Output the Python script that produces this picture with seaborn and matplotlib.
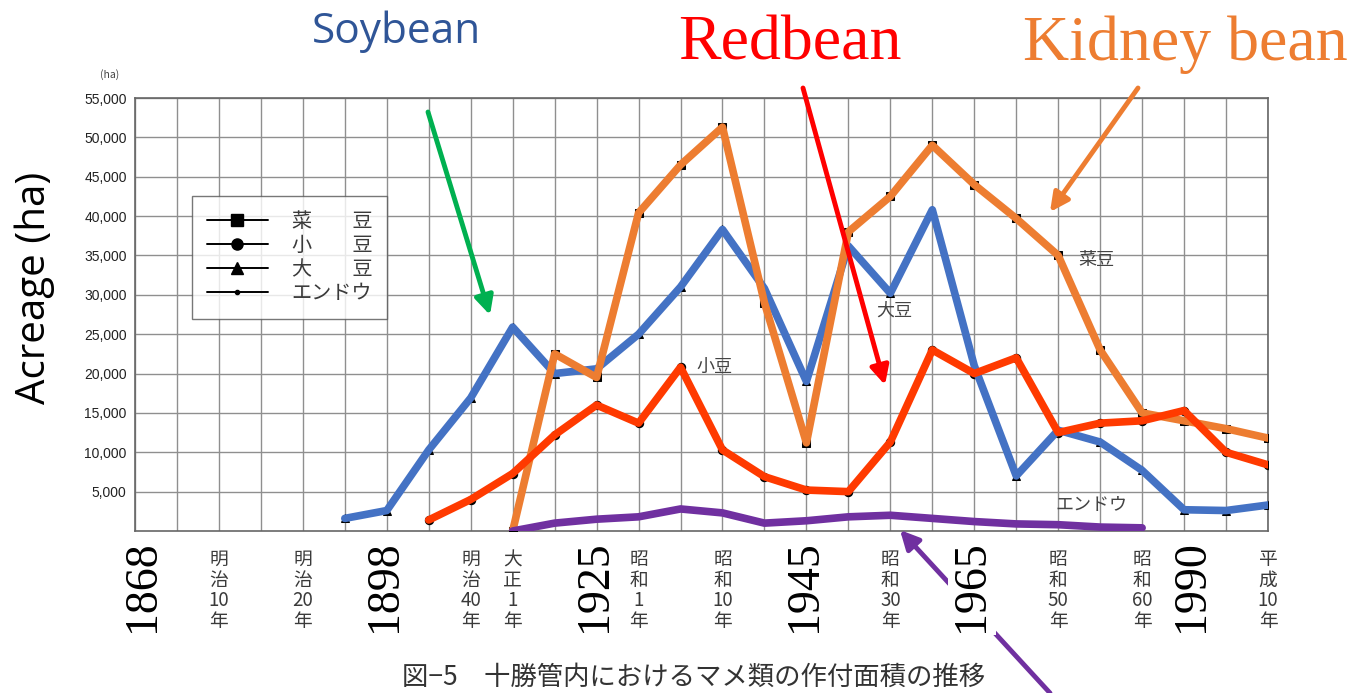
import numpy as np
import pandas as pd
import matplotlib
matplotlib.use("Agg")
import matplotlib.pyplot as plt
from matplotlib.lines import Line2D
import seaborn as sns

# ---------------- data (thousand ha), x = 5-year grid index ----------------
soy_x = list(range(5, 28))
soybean = [1.6, 2.6, 10.3, 16.9, 25.9, 20.0, 20.6, 25.0, 31.0, 38.3, 30.8, 19.0,
           36.2, 30.2, 40.8, 21.0, 7.0, 12.8, 11.3, 7.7, 2.7, 2.6, 3.3]
kid_x = list(range(9, 28))
kidney = [0.0, 22.5, 19.5, 40.4, 46.5, 51.3, 29.0, 11.2, 38.0, 42.5, 49.0, 44.0,
          39.7, 35.0, 23.0, 15.0, 14.0, 13.0, 11.8]
red_x = list(range(7, 28))
redbean = [1.4, 4.0, 7.3, 12.2, 16.0, 13.7, 20.8, 10.3, 6.9, 5.2, 5.0, 11.3, 23.0,
           20.0, 22.0, 12.5, 13.7, 14.0, 15.3, 10.0, 8.4]
pea_x = list(range(9, 25))
pea = [0.0, 1.0, 1.5, 1.8, 2.8, 2.3, 1.0, 1.3, 1.8, 2.0, 1.6, 1.2, 0.9, 0.8, 0.5, 0.4]

era_pos = [2, 4, 8, 9, 12, 14, 18, 22, 24, 27]
era_labels = ["明\n治\n10\n年", "明\n治\n20\n年", "明\n治\n40\n年", "大\n正\n1\n年",
              "昭\n和\n1\n年", "昭\n和\n10\n年", "昭\n和\n30\n年", "昭\n和\n50\n年",
              "昭\n和\n60\n年", "平\n成\n10\n年"]
ytick_vals = [5000 * i for i in range(1, 12)]
ytick_labels = [f"{v:,}" for v in ytick_vals]

years_en = ["1868", "1898", "1925", "1945", "1965", "1990"]
years_px = [143, 385, 595, 805, 972, 1192]

legend_labels = ["菜　　豆", "小　　豆", "大　　豆", "エンドウ"]

# ---------------- figure ----------------
sns.set_style("white")
plt.rcParams["font.family"] = ["Noto Sans CJK JP", "DejaVu Sans"]

W, H = 1352, 693
fig = plt.figure(figsize=(W / 100, H / 100), dpi=100)
fig.patch.set_facecolor("white")
ax = fig.add_axes([135 / W, 1 - 531 / H, (1268 - 135) / W, (531 - 98) / H])

ax.set_xlim(0, 27)
ax.set_ylim(0, 55000)
ax.set_xticks(range(28), minor=True)
ax.set_xticks(era_pos)
ax.set_xticklabels(era_labels, fontsize=13.5, color="#3a3a3a", linespacing=0.98)
ax.set_yticks(ytick_vals)
ax.set_yticklabels(ytick_labels, fontsize=10, color="#222222",
                   family=["Liberation Sans Narrow", "Liberation Sans", "DejaVu Sans"])
ax.tick_params(axis="both", which="both", length=0)
ax.tick_params(axis="x", pad=13)
ax.tick_params(axis="y", pad=6)
ax.grid(True, which="both", axis="x", color="#8f8f8f", lw=1.0)
ax.grid(True, which="major", axis="y", color="#8f8f8f", lw=1.0)
ax.set_axisbelow(True)
for s in ax.spines.values():
    s.set_color("#666666")
    s.set_linewidth(1.2)

# original black series with markers
series = [
    (kid_x, kidney, "s", 6),
    (red_x, redbean, "o", 6),
    (soy_x, soybean, "^", 6),
    (pea_x, pea, ".", 4),
]
for xs, ys, m, ms in series:
    sns.lineplot(x=xs, y=[v * 1000 for v in ys], ax=ax, color="black", lw=1.0,
                 marker=m, markersize=ms, markeredgecolor="black", zorder=3)

# coloured overlay lines
overlays = [
    (soy_x, soybean, "#4472C4"),
    (kid_x, kidney, "#ED7D31"),
    (red_x, redbean, "#FF3A00"),
    (pea_x, pea, "#7030A0"),
]
for xs, ys, c in overlays:
    sns.lineplot(x=xs, y=[v * 1000 for v in ys], ax=ax, color=c, lw=5.5,
                 solid_joinstyle="round", solid_capstyle="round", zorder=4)

# legend
handles = [Line2D([0], [0], color="black", lw=1.4, marker=m, markersize=ms + 2)
           for _, _, m, ms in series]
leg = ax.legend(handles, legend_labels, loc="upper left",
                bbox_to_anchor=(57 / 1133, (531 - 196) / 433), fontsize=14.5,
                frameon=True, fancybox=False, handlelength=3.0, labelspacing=0.15,
                borderpad=0.75, handletextpad=1.2, borderaxespad=0)
leg.get_frame().set_edgecolor("#555555")
leg.get_frame().set_linewidth(1.0)
for t in leg.get_texts():
    t.set_color("#3a3a3a")

# in-chart labels
for txt, xi, yv in [("小豆", 13.8, 20800), ("大豆", 18.1, 28000),
                    ("菜豆", 22.9, 34400), ("エンドウ", 22.8, 3300)]:
    ax.text(xi, yv, txt, fontsize=13, color="#444444", ha="center", va="center", zorder=5)

fig.text(110 / W, 1 - 75 / H, "(ha)", fontsize=7.5, color="#444444", ha="center", va="center")

# English year overlays
for lab, px in zip(years_en, years_px):
    fig.text(px / W, 1 - 586 / H, lab, rotation=90, fontsize=33,
             family="Liberation Serif", color="black", ha="center", va="center",
             bbox=dict(facecolor="white", edgecolor="none", pad=2))

# titles
fig.text(397 / W, 1 - 32 / H, "Soybean", fontsize=30.5, color="#2F5597",
         family="Open Sans", ha="center", va="center")
fig.text(790 / W, 1 - 45 / H, "Redbean", fontsize=46, color="#FF0000",
         family="Liberation Serif", ha="center", va="center")
fig.text(1185 / W, 1 - 45 / H, "Kidney bean", fontsize=46, color="#ED7D31",
         family="Liberation Serif", ha="center", va="center")
fig.text(35 / W, 1 - 288 / H, "Acreage (ha)", fontsize=29, color="black",
         family="Open Sans", rotation=90, ha="center", va="center")

fig.text(694 / W, 1 - 677 / H, "図−5　十勝管内におけるマメ類の作付面積の推移",
         fontsize=19, color="#333333", ha="center", va="center", weight="normal")

# arrows
def arrow(x1, y1, x2, y2, color):
    ax.annotate("", xy=(x2, H - y2), xytext=(x1, H - y1),
                xycoords="figure pixels", textcoords="figure pixels",
                arrowprops=dict(arrowstyle="-|>", color=color, lw=3.5,
                                mutation_scale=28, shrinkA=0, shrinkB=0),
                annotation_clip=False, zorder=10)

arrow(428, 112, 490, 315, "#00B050")
arrow(803, 88, 885, 385, "#FF0000")
arrow(1138, 88, 1050, 212, "#ED7D31")
arrow(1050, 693, 900, 530, "#7030A0")

fig.savefig("out.png", dpi=100, facecolor="white")
